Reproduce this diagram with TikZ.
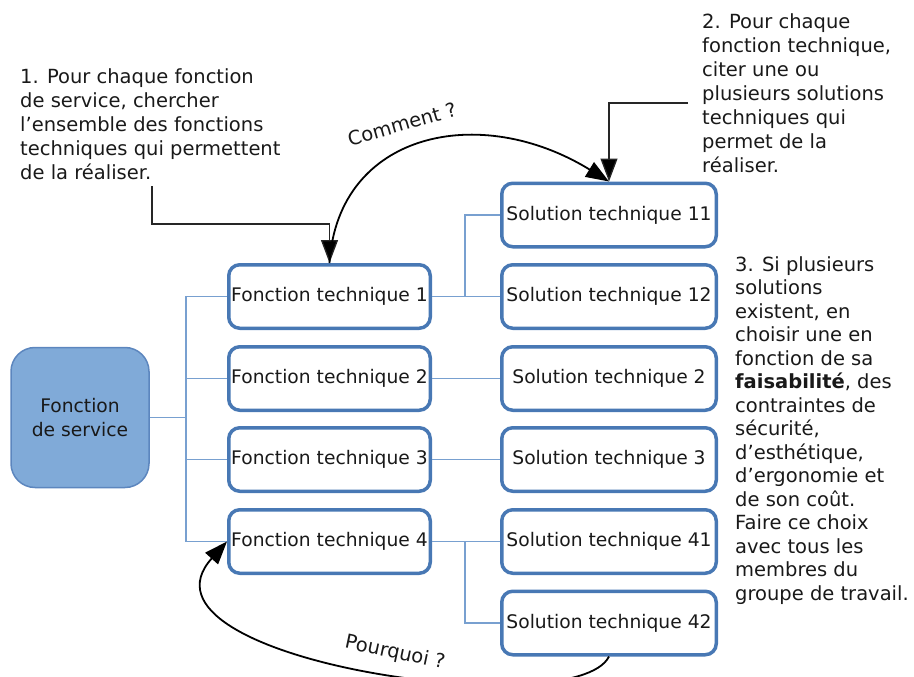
\documentclass[tikz,border=0pt]{standalone}
\usepackage{fontspec}
\setmainfont{DejaVu Sans}
\usetikzlibrary{arrows.meta}
\definecolor{boxblue}{RGB}{72,120,180}
\definecolor{linkblue}{RGB}{120,160,208}
\definecolor{fsfill}{RGB}{128,170,216}
\definecolor{fsdraw}{RGB}{92,134,190}
\definecolor{txt}{RGB}{25,25,25}
\begin{document}
\begin{tikzpicture}[x=1pt,y=-1pt,
  every node/.style={font=\fontsize{18.7}{24}\selectfont, text=txt},
  ftbox/.style={draw=boxblue, line width=3.5pt, rounded corners=11pt, minimum width=201.5pt, minimum height=63.5pt, inner sep=0pt, fill=white},
  stbox/.style={ftbox, minimum width=214.5pt},
  fsbox/.style={draw=fsdraw, fill=fsfill, line width=1.5pt, rounded corners=24pt, minimum width=138pt, minimum height=140pt, inner sep=0pt, align=center},
  link/.style={draw=linkblue, line width=1.8pt},
  callout/.style={draw=black!85, line width=1.3pt},
  curve/.style={draw=black, line width=1.8pt},
  bigtip/.style={-{Triangle[length=23pt,width=17pt,fill=black]}},
  note/.style={align=left, anchor=north west, inner sep=0pt, font=\fontsize{19.5}{24}\selectfont}]
\useasboundingbox (0,0) rectangle (914,677);

% main boxes
\node[fsbox] (fs) at (80,417.5) {Fonction\\de service};
\node[ftbox] (ft1) at (329.5,296.5) {Fonction technique 1};
\node[ftbox] (ft2) at (329.5,378.5) {Fonction technique 2};
\node[ftbox] (ft3) at (329.5,459.5) {Fonction technique 3};
\node[ftbox] (ft4) at (329.5,541.5) {Fonction technique 4};
\node[stbox] (st11) at (609,215) {Solution technique 11};
\node[stbox] (st12) at (609,296.5) {Solution technique 12};
\node[stbox] (st2) at (609,378.5) {Solution technique 2};
\node[stbox] (st3) at (609,459.5) {Solution technique 3};
\node[stbox] (st41) at (609,541.5) {Solution technique 41};
\node[stbox] (st42) at (609,623) {Solution technique 42};

% tree connectors
\coordinate (trunk) at (186,0);
\coordinate (j) at (465,0);
\draw[link] (fs.east) -- (fs.east -| trunk);
\draw[link] (ft1.west) -- (ft1.west -| trunk) -- (ft4.west -| trunk) -- (ft4.west);
\draw[link] (ft2.west) -- (ft2.west -| trunk);
\draw[link] (ft3.west) -- (ft3.west -| trunk);
\draw[link] (ft1.east) -- (st12.west);
\draw[link] (ft1.east -| j) |- (st11.west);
\draw[link] (ft2.east) -- (st2.west);
\draw[link] (ft3.east) -- (st3.west);
\draw[link] (ft4.east) -- (st41.west);
\draw[link] (ft4.east -| j) |- (st42.west);

% notes
\node[note] (n1) at (20,68) {1. Pour chaque fonction\\de service, chercher\\l'ensemble des fonctions\\techniques qui permettent\\de la réaliser.};
\node[note] (n2) at (702,13) {2. Pour chaque\\fonction technique,\\citer une ou\\plusieurs solutions\\techniques qui\\permet de la\\réaliser.};
\node[note, font=\fontsize{19.5}{23.5}\selectfont] (n3) at (735,256) {3. Si plusieurs\\solutions\\existent, en\\choisir une en\\fonction de sa\\\textbf{faisabilité}, des\\contraintes de\\sécurité,\\d'esthétique,\\d'ergonomie et\\de son coût.\\Faire ce choix\\avec tous les\\membres du\\groupe de travail.};

% callout lines
\coordinate (c1) at (152,186);
\coordinate (c1b) at (152,224);
\draw[callout, bigtip] (c1) -- (c1b) -| (ft1.north);
\coordinate (c2) at (688,103);
\draw[callout, bigtip] (c2) -| (st11.north);

% curved arrows
\draw[curve, bigtip] (ft1.north) .. controls (338,132) and (480,102) .. (st11.north);
\draw[curve, bigtip] (st42.south) .. controls (575,725) and (120,660) .. (ft4.west);
\node[rotate=16, font=\fontsize{19.5}{24}\selectfont] (cm) at (402,124) {Comment ?};
\node[rotate=-12, font=\fontsize{19.5}{24}\selectfont] (pq) at (395,653) {Pourquoi ?};
\end{tikzpicture}
\end{document}
